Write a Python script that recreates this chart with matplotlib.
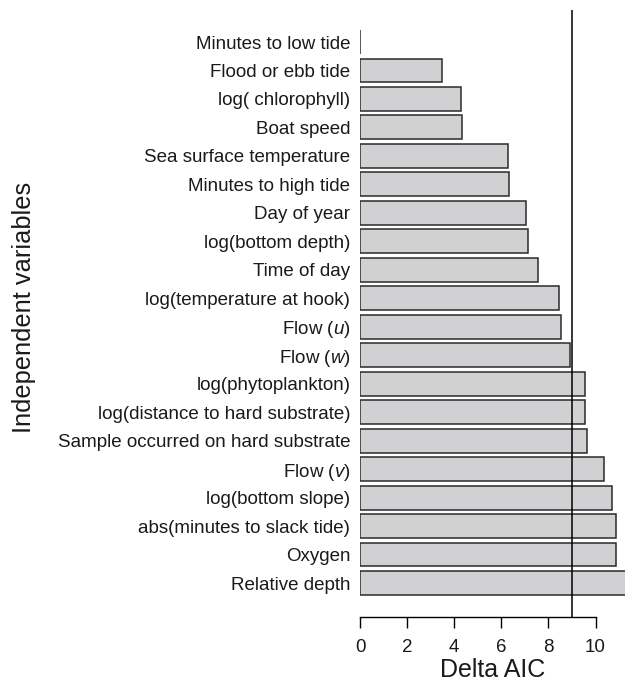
import matplotlib
matplotlib.use("Agg")
import matplotlib.pyplot as plt

plt.rcParams['font.family'] = ['Liberation Sans', 'DejaVu Sans']
plt.rcParams['mathtext.fontset'] = 'custom'
plt.rcParams['mathtext.rm'] = 'Liberation Sans'
plt.rcParams['mathtext.it'] = 'Liberation Sans:italic'

variables = [
    "Minutes to low tide",
    "Flood or ebb tide",
    "log( chlorophyll)",
    "Boat speed",
    "Sea surface temperature",
    "Minutes to high tide",
    "Day of year",
    "log(bottom depth)",
    "Time of day",
    "log(temperature at hook)",
    "Flow ($\\mathit{u}$)",
    "Flow ($\\mathit{w}$)",
    "log(phytoplankton)",
    "log(distance to hard substrate)",
    "Sample occurred on hard substrate",
    "Flow ($\\mathit{v}$)",
    "log(bottom slope)",
    "abs(minutes to slack tide)",
    "Oxygen",
    "Relative depth",
]
delta_aic = [0.0, 3.5, 4.27, 4.32, 6.28, 6.32, 7.04, 7.15, 7.57, 8.46,
             8.53, 8.9, 9.55, 9.56, 9.65, 10.37, 10.72, 10.87, 10.87, 12.0]
threshold = 9
xticks = [0, 2, 4, 6, 8, 10]

W, H = 625, 684
fig = plt.figure(figsize=(W / 100, H / 100), dpi=100)
ax = fig.add_axes([360 / W, 1 - 617 / H, 1 - 360 / W, (617 - 10) / H])

ypos = list(range(len(variables)))
ax.barh(ypos, delta_aic, height=0.84, color="#d1d1d3", edgecolor="#2a2a2a",
        linewidth=1.1)
ax.axvline(threshold, color="black", linewidth=1.1)

ax.set_ylim(len(variables) - 1 + 1.194, -1.124)
ax.set_xlim(0, (W - 360) / 23.55)

ax.set_yticks(ypos)
ax.set_yticklabels(variables, fontsize=13.5, color="#1a1a1a")
ax.tick_params(axis='y', length=0, pad=7)

ax.set_xticks(xticks)
ax.set_xticklabels([str(t) for t in xticks], fontsize=13.5, color="#1a1a1a")
ax.tick_params(axis='x', length=8, width=1.0, pad=8)

for s in ['top', 'right', 'left']:
    ax.spines[s].set_visible(False)
ax.spines['bottom'].set_bounds(0, 10)
ax.spines['bottom'].set_linewidth(1.0)

ax.set_xlabel("Delta AIC", fontsize=18, color="#1a1a1a", labelpad=1)
fig.text(24 / W, 1 - 307 / H, "Independent variables", rotation=90,
         fontsize=18.3, color="#1a1a1a", ha='center', va='center')

fig.savefig("out.png", dpi=100)
